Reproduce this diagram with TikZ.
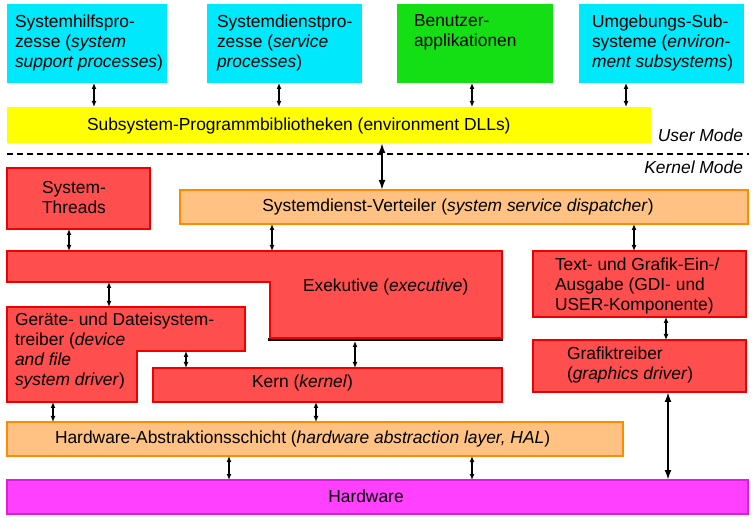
\documentclass[tikz,border=0pt]{standalone}
\usepackage{fontspec}
\setmainfont{Liberation Sans}
\usetikzlibrary{arrows.meta,fit}
\definecolor{cyanF}{RGB}{0,232,252}
\definecolor{greenF}{RGB}{20,222,20}
\definecolor{yellowF}{RGB}{255,255,0}
\definecolor{redF}{RGB}{255,78,78}
\definecolor{redB}{RGB}{238,0,0}
\definecolor{orangeF}{RGB}{255,194,130}
\definecolor{orangeB}{RGB}{255,140,0}
\definecolor{magF}{RGB}{255,64,255}
\definecolor{magB}{RGB}{222,30,222}
\begin{document}
\begin{tikzpicture}[x=1pt,y=-1pt,
  every node/.style={font=\fontsize{17.4}{20.3}\selectfont},
  plain/.style={inner sep=0pt, outer sep=0pt},
  cyanbox/.style={plain, fill=cyanF, draw=none},
  greenbox/.style={plain, fill=greenF, draw=none},
  yellowbox/.style={plain, fill=yellowF, draw=none},
  redbox/.style={plain, fill=redF, draw=redB, line width=1.6pt},
  redshape/.style={fill=redF, draw=redB, line width=1.6pt},
  orangebox/.style={plain, fill=orangeF, draw=orangeB, line width=1.6pt},
  magbox/.style={plain, fill=magF, draw=magB, line width=1.6pt},
  txt/.style={plain, align=left, anchor=north west},
  ltxt/.style={plain, anchor=base west},
  ctxt/.style={plain, anchor=base, align=center},
  dbl/.style={line width=1.3pt, {Latex[length=6pt,width=5pt]}-{Latex[length=6pt,width=5pt]}},
  thick dbl/.style={line width=2.2pt, {Latex[length=10pt,width=7pt]}-{Latex[length=10pt,width=7pt]}},
  modeline/.style={line width=1.8pt, dash pattern=on 6pt off 4pt}
]
\useasboundingbox (0,0) rectangle (755,518);

% ---------- top row ----------
\node[cyanbox, fit={(7,4)(167,83)}] (b1) {};
\node[cyanbox, fit={(207,4)(362,83)}] (b2) {};
\node[greenbox, fit={(397,4)(553,83)}] (b3) {};
\node[cyanbox, fit={(579,4)(744,83)}] (b4) {};
\node[txt] (t1) at (15,14.4) {Systemhilfspro-\\zesse (\textit{system}\\\textit{support processes})};
\node[txt] (t2) at (217,14.4) {Systemdienstpro-\\zesse (\textit{service}\\\textit{processes})};
\node[txt] (t3) at (414,14.4) {Benutzer-\\applikationen};
\node[txt] (t4) at (592,14.4) {Umgebungs-Sub-\\systeme (\textit{environ-}\\\textit{ment subsystems})};

% ---------- subsystem DLLs ----------
\node[yellowbox, fit={(7,107)(651,143)}] (yel) {};
\node[ltxt] (tyel) at (87,131) {Subsystem-Programmbibliotheken (environment DLLs)};

% ---------- mode line ----------
\coordinate (dl) at (7,154);
\coordinate (dr) at (749,154);
\draw[modeline] (dl) -- (dr);
\node[plain, anchor=base east] (um) at (743,142) {\textit{User Mode}};
\node[plain, anchor=base east] (km) at (743,174) {\textit{Kernel Mode}};

% ---------- kernel side ----------
\node[redbox, fit={(7,168)(150,229)}] (thr) {};
\node[ctxt] (tthr) at (74,214) {System-\\Threads};
\node[orangebox, fit={(180,190)(748,224)}] (disp) {};
\node[ctxt] (tdisp) at (458,212) {Systemdienst-Verteiler (\textit{system service dispatcher})};

% Exekutive (stepped shape)
\draw[line width=2.6pt] (268,339.5) -- (503,339.5);
\draw[redshape] (7,251) -- (502,251) -- (502,338) -- (270,338) -- (270,282) -- (7,282) -- cycle;
\coordinate (exeN) at (0,251);
\coordinate (exeStep) at (0,282);
\coordinate (exeS) at (0,341);
\node[ltxt] (texe) at (303,292) {Exekutive (\textit{executive})};

% Text und Grafik / Grafiktreiber
\node[redbox, fit={(533,251)(746,317)}] (tg) {};
\node[txt] (ttg) at (555,257.4) {Text- und Grafik-Ein-/\\Ausgabe (GDI- und\\USER-Komponente)};
\node[redbox, fit={(533,340)(746,392)}] (gr) {};
\node[txt] (tgr) at (567,346.4) {Grafiktreiber\\(\textit{graphics driver})};

% Geraete- und Dateisystemtreiber (stepped shape)
\draw[redshape] (7,307) -- (245,307) -- (245,351) -- (137,351) -- (137,402) -- (7,402) -- cycle;
\coordinate (gerN) at (0,307);
\coordinate (gerStep) at (0,351);
\coordinate (gerS) at (0,402);
\node[txt] (tger) at (15,312.4) {Geräte- und Dateisystem-\\treiber (\textit{device}\\\textit{and file}\\\textit{system driver})};

% Kern
\node[redbox, fit={(153,368)(502,402)}] (kern) {};
\node[ltxt] (tkern) at (252,388) {Kern (\textit{kernel})};

% HAL
\node[orangebox, fit={(7,422)(623,456)}] (hal) {};
\node[ltxt] (thal) at (55,443) {Hardware-Abstraktionsschicht (\textit{hardware abstraction layer, HAL})};

% Hardware
\node[magbox, fit={(7,480)(748,514)}] (hw) {};
\node[ctxt] (thw) at (366,502) {Hardware};

% ---------- connectors ----------
\coordinate (x1) at (94,0);
\coordinate (x2) at (279,0);
\coordinate (x3) at (472,0);
\coordinate (x4) at (626,0);
\coordinate (x5) at (382,0);
\coordinate (x6) at (69,0);
\coordinate (x7) at (272,0);
\coordinate (x8) at (634,0);
\coordinate (x9) at (109,0);
\coordinate (x10) at (666,0);
\coordinate (x11) at (186,0);
\coordinate (x12) at (355,0);
\coordinate (x13) at (668,0);
\coordinate (x14) at (53,0);
\coordinate (x15) at (316,0);
\coordinate (x16) at (229,0);
\coordinate (x17) at (472,0);

\draw[dbl] (x1 |- b1.south) -- (x1 |- yel.north);
\draw[dbl] (x2 |- b2.south) -- (x2 |- yel.north);
\draw[dbl] (x3 |- b3.south) -- (x3 |- yel.north);
\draw[dbl] (x4 |- b4.south) -- (x4 |- yel.north);
\draw[thick dbl] (x5 |- yel.south) -- (x5 |- disp.north);
\draw[dbl] (x6 |- thr.south) -- (x6 |- exeN);
\draw[dbl] (x7 |- disp.south) -- (x7 |- exeN);
\draw[dbl] (x8 |- disp.south) -- (x8 |- tg.north);
\draw[dbl] (x9 |- exeStep) -- (x9 |- gerN);
\draw[dbl] (x10 |- tg.south) -- (x10 |- gr.north);
\draw[dbl] (x11 |- gerStep) -- (x11 |- kern.north);
\draw[dbl] (x12 |- exeS) -- (x12 |- kern.north);
\draw[thick dbl] (x13 |- gr.south) -- (x13 |- hw.north);
\draw[dbl] (x14 |- gerS) -- (x14 |- hal.north);
\draw[dbl] (x15 |- kern.south) -- (x15 |- hal.north);
\draw[dbl] (x16 |- hal.south) -- (x16 |- hw.north);
\draw[dbl] (x17 |- hal.south) -- (x17 |- hw.north);
\end{tikzpicture}
\end{document}
